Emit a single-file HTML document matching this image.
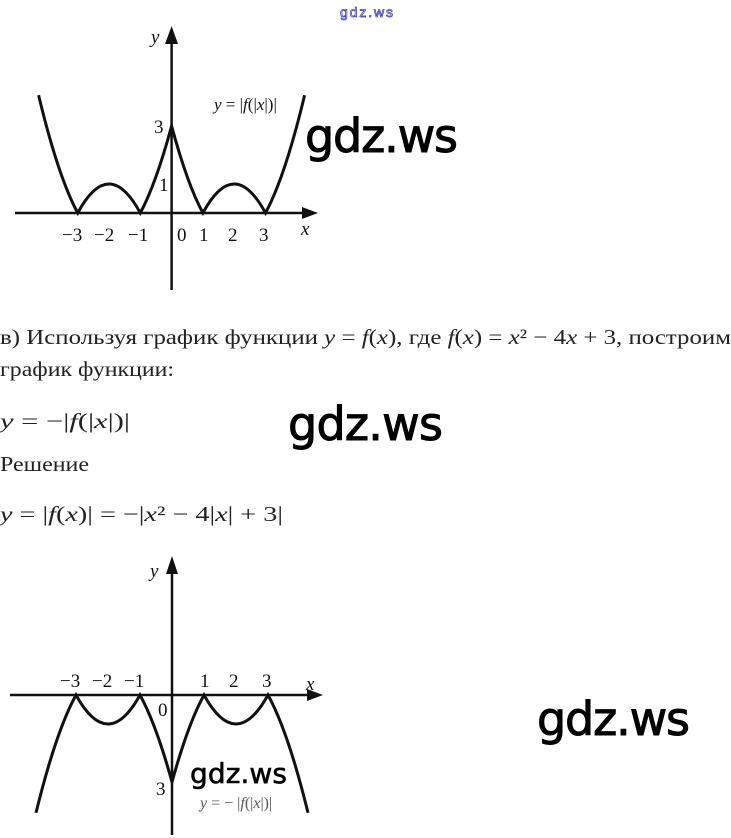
<!DOCTYPE html>
<html><head><meta charset="utf-8"><style>
html,body{margin:0;padding:0;background:#fff;}
svg{display:block;}
.t{font-family:"Liberation Serif",serif;font-size:21px;fill:#222;}
.m{font-family:"Liberation Serif",serif;font-style:italic;}
.w{font-family:"DejaVu Sans","Liberation Sans",sans-serif;fill:#000;stroke:#000;stroke-width:1;}
.l{font-family:"Liberation Serif",serif;font-size:19px;fill:#111;}
</style></head><body>
<svg width="731" height="838" viewBox="0 0 731 838" xmlns="http://www.w3.org/2000/svg">
<text x="340" y="17" font-family="Liberation Sans,sans-serif" font-size="14" fill="#fff" stroke="#4040c0" stroke-width="0.8" textLength="53">gdz.ws</text>
<!-- graph 1 -->
<g stroke="#111" fill="none" stroke-width="2.5">
<line x1="15" y1="213" x2="312" y2="213"/>
<line x1="171.6" y1="290" x2="171.6" y2="38"/>
<path stroke-width="3" d="M38.6,95.2 Q58.1,176.75 77.7,213 Q109,155 140.3,213 Q155.9,184 171.6,126 Q187.2,184 202.9,213 Q234.2,155 265.5,213 Q285.1,176.75 304.6,95.2"/>
</g>
<polygon points="318,213 302,207 302,219" fill="#111"/>
<polygon points="171.6,26 165,44 178,44" fill="#111"/>
<g class="l">
<text x="151" y="43" class="m">y</text>
<text x="62" y="241">−3</text><text x="94" y="241">−2</text><text x="128" y="241">−1</text>
<text x="177" y="241">0</text><text x="199" y="241">1</text><text x="228" y="241">2</text><text x="259" y="241">3</text>
<text x="301" y="235" class="m">x</text>
<text x="154" y="133">3</text><text x="159" y="191">1</text>
<text x="214" y="110" font-size="17"><tspan class="m">y</tspan> = |<tspan class="m">f</tspan>(|<tspan class="m">x</tspan>|)|</text>
</g>
<text x="305" y="152" class="w" font-size="46" textLength="153">gdz.ws</text>
<!-- text -->
<text x="0" y="344" class="t" textLength="731" lengthAdjust="spacingAndGlyphs">в) Используя график функции <tspan class="m">y</tspan> = <tspan class="m">f</tspan>(<tspan class="m">x</tspan>), где <tspan class="m">f</tspan>(<tspan class="m">x</tspan>) = <tspan class="m">x</tspan>² − 4<tspan class="m">x</tspan> + 3, построим</text>
<text x="0" y="376" class="t" textLength="174" lengthAdjust="spacingAndGlyphs">график функции:</text>
<text x="0" y="428" class="t" textLength="130" lengthAdjust="spacingAndGlyphs"><tspan class="m">y</tspan> = −|<tspan class="m">f</tspan>(|<tspan class="m">x</tspan>|)|</text>
<text x="288" y="440" class="w" font-size="46" textLength="155">gdz.ws</text>
<text x="0" y="471" class="t" textLength="89" lengthAdjust="spacingAndGlyphs">Решение</text>
<text x="0" y="521" class="t" textLength="283" lengthAdjust="spacingAndGlyphs"><tspan class="m">y</tspan> = |<tspan class="m">f</tspan>(<tspan class="m">x</tspan>)| = −|<tspan class="m">x</tspan>² − 4|<tspan class="m">x</tspan>| + 3|</text>
<!-- graph 2 -->
<g stroke="#111" fill="none" stroke-width="2.5">
<line x1="10" y1="695" x2="316" y2="695"/>
<line x1="172" y1="835" x2="172" y2="570"/>
<path stroke-width="3" d="M36,812.8 Q56,731.25 76,695 Q108,753 140,695 Q156,724 172,782 Q188,724 204,695 Q236,753 268,695 Q288,731.25 308,812.8"/>
</g>
<polygon points="323,695 307,689 307,701" fill="#111"/>
<polygon points="172,556 166,574 178,574" fill="#111"/>
<g class="l">
<text x="150" y="577" class="m">y</text>
<text x="60" y="687">−3</text><text x="92" y="687">−2</text><text x="124" y="687">−1</text>
<text x="200" y="687">1</text><text x="229" y="687">2</text><text x="262" y="687">3</text>
<text x="306" y="690" class="m">x</text>
<text x="158" y="716">0</text><text x="156" y="795">3</text>
<text x="200" y="808" font-size="16" fill="#555"><tspan class="m">y</tspan> = − |<tspan class="m">f</tspan>(|<tspan class="m">x</tspan>|)|</text>
</g>
<text x="190" y="783" class="w" font-size="28" textLength="97" style="stroke-width:0.6">gdz.ws</text>
<text x="537" y="735" class="w" font-size="46" textLength="153">gdz.ws</text>
</svg>
</body></html>
